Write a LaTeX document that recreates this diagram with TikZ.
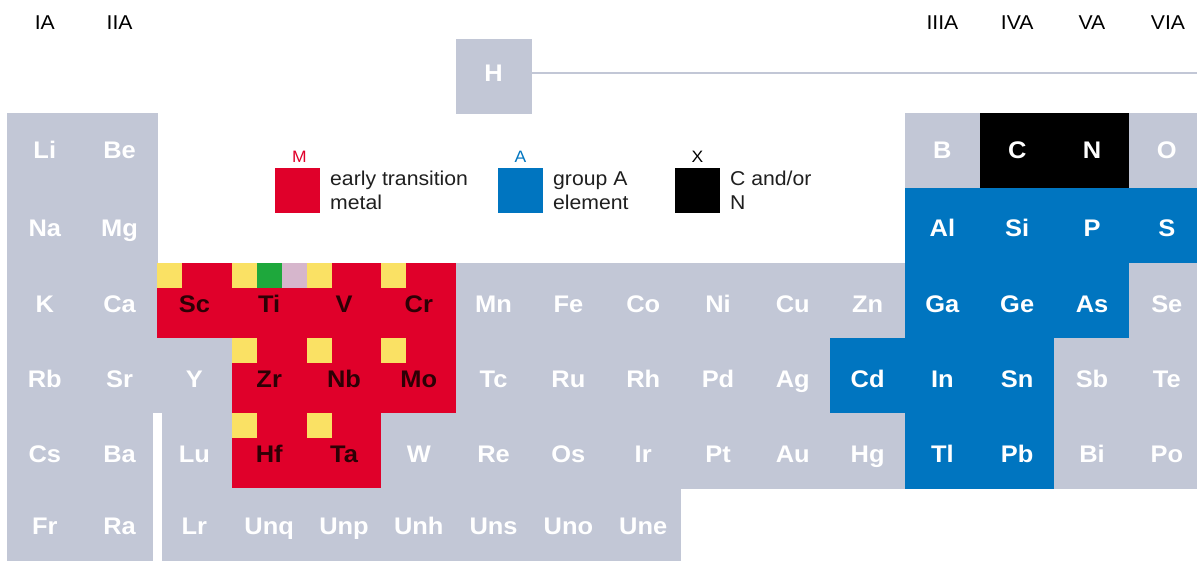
\documentclass[tikz,border=0pt]{standalone}
\usepackage{fontspec}
\setmainfont{Liberation Sans}[FakeStretch=1.06]
\definecolor{pgrey}{RGB}{194,199,214}
\definecolor{pred}{RGB}{224,0,42}
\definecolor{pblue}{RGB}{0,117,192}
\definecolor{pyel}{RGB}{250,225,100}
\definecolor{pgreen}{RGB}{30,168,60}
\definecolor{ppink}{RGB}{214,182,204}
\definecolor{pdark}{RGB}{45,0,5}
\newcommand\elem[5]{\node[cell,#4,row#2] (#5) at ({7.4+74.8*(#1-1)},{39+74.8*#2}) {#3};}
\begin{document}
\begin{tikzpicture}[x=1pt,y=-1pt,
  cell/.style={minimum width=74.8pt,minimum height=74.8pt,inner sep=0pt,outer sep=0pt,
    anchor=north west,line width=0.6pt,font=\bfseries\fontsize{24}{24}\selectfont,text depth=0pt},
  gcell/.style={fill=pgrey,draw=pgrey,text=white},
  rcell/.style={fill=pred,draw=pred,text=pdark},
  bcell/.style={fill=pblue,draw=pblue,text=white},
  kcell/.style={fill=black,draw=black,text=white},
  row0/.style={text height=11pt},
  row1/.style={text height=14pt},
  row2/.style={text height=22pt},
  row3/.style={text height=24pt},
  row4/.style={text height=24pt},
  row5/.style={text height=24pt},
  row6/.style={text height=19pt},
  group/.style={anchor=base,inner sep=0pt,font=\fontsize{20}{20}\selectfont},
  legsq/.style={minimum width=45pt,minimum height=45pt,inner sep=0pt,outer sep=0pt,anchor=north west},
  legkey/.style={anchor=base,inner sep=0pt,font=\fontsize{16.5}{16.5}\selectfont},
  legtext/.style={anchor=west,inner sep=0pt,align=left,text=black!88,font=\fontsize{20}{24}\selectfont},
  yel/.style={fill=pyel}
]
\useasboundingbox (0,0) rectangle (1197,561);
\clip (0,0) rectangle (1197,561);
% group labels
\node[group] (gIA) at (44.8,30) {IA};
\node[group] (gIIA) at (119.6,30) {IIA};
\node[group] (gIIIA) at (942.4,30) {IIIA};
\node[group] (gIVA) at (1017.2,30) {IVA};
\node[group] (gVA) at (1092,30) {VA};
\node[group] (gVIA) at (1168,30) {VIA};
% row 0
\elem{7}{0}{H}{gcell}{H}
\coordinate (Hend) at (1197,73);
\draw[pgrey,line width=2.5pt] (H.east |- Hend) -- (Hend);
% row 1
\elem{1}{1}{Li}{gcell}{Li}
\elem{2}{1}{Be}{gcell}{Be}
\elem{13}{1}{B}{gcell}{B}
\elem{14}{1}{C}{kcell}{C}
\elem{15}{1}{N}{kcell}{N}
\elem{16}{1}{O}{gcell}{O}
% row 2
\elem{1}{2}{Na}{gcell}{Na}
\elem{2}{2}{Mg}{gcell}{Mg}
\elem{13}{2}{Al}{bcell}{Al}
\elem{14}{2}{Si}{bcell}{Si}
\elem{15}{2}{P}{bcell}{P}
\elem{16}{2}{S}{bcell}{S}
% row 3
\elem{1}{3}{K}{gcell}{K}
\elem{2}{3}{Ca}{gcell}{Ca}
\elem{3}{3}{Sc}{rcell}{Sc}
\elem{4}{3}{Ti}{rcell}{Ti}
\elem{5}{3}{V}{rcell}{V}
\elem{6}{3}{Cr}{rcell}{Cr}
\elem{7}{3}{Mn}{gcell}{Mn}
\elem{8}{3}{Fe}{gcell}{Fe}
\elem{9}{3}{Co}{gcell}{Co}
\elem{10}{3}{Ni}{gcell}{Ni}
\elem{11}{3}{Cu}{gcell}{Cu}
\elem{12}{3}{Zn}{gcell}{Zn}
\elem{13}{3}{Ga}{bcell}{Ga}
\elem{14}{3}{Ge}{bcell}{Ge}
\elem{15}{3}{As}{bcell}{As}
\elem{16}{3}{Se}{gcell}{Se}
% row 4
\elem{1}{4}{Rb}{gcell}{Rb}
\elem{2}{4}{Sr}{gcell}{Sr}
\elem{3}{4}{Y}{gcell}{Y}
\elem{4}{4}{Zr}{rcell}{Zr}
\elem{5}{4}{Nb}{rcell}{Nb}
\elem{6}{4}{Mo}{rcell}{Mo}
\elem{7}{4}{Tc}{gcell}{Tc}
\elem{8}{4}{Ru}{gcell}{Ru}
\elem{9}{4}{Rh}{gcell}{Rh}
\elem{10}{4}{Pd}{gcell}{Pd}
\elem{11}{4}{Ag}{gcell}{Ag}
\elem{12}{4}{Cd}{bcell}{Cd}
\elem{13}{4}{In}{bcell}{In}
\elem{14}{4}{Sn}{bcell}{Sn}
\elem{15}{4}{Sb}{gcell}{Sb}
\elem{16}{4}{Te}{gcell}{Te}
% row 5
\elem{1}{5}{Cs}{gcell}{Cs}
\elem{2}{5}{Ba}{gcell}{Ba}
\elem{3}{5}{Lu}{gcell}{Lu}
\elem{4}{5}{Hf}{rcell}{Hf}
\elem{5}{5}{Ta}{rcell}{Ta}
\elem{6}{5}{W}{gcell}{W}
\elem{7}{5}{Re}{gcell}{Re}
\elem{8}{5}{Os}{gcell}{Os}
\elem{9}{5}{Ir}{gcell}{Ir}
\elem{10}{5}{Pt}{gcell}{Pt}
\elem{11}{5}{Au}{gcell}{Au}
\elem{12}{5}{Hg}{gcell}{Hg}
\elem{13}{5}{Tl}{bcell}{Tl}
\elem{14}{5}{Pb}{bcell}{Pb}
\elem{15}{5}{Bi}{gcell}{Bi}
\elem{16}{5}{Po}{gcell}{Po}
% row 6
\elem{1}{6}{Fr}{gcell}{Fr}
\elem{2}{6}{Ra}{gcell}{Ra}
\elem{3}{6}{Lr}{gcell}{Lr}
\elem{4}{6}{Unq}{gcell}{Unq}
\elem{5}{6}{Unp}{gcell}{Unp}
\elem{6}{6}{Unh}{gcell}{Unh}
\elem{7}{6}{Uns}{gcell}{Uns}
\elem{8}{6}{Uno}{gcell}{Uno}
\elem{9}{6}{Une}{gcell}{Une}
% white separator
\fill[white] (152.7,413.2) rectangle (162.3,561);
% small marker squares
\foreach \n in {Sc,Ti,V,Cr,Zr,Nb,Mo,Hf,Ta}{
  \fill[yel] (\n.north west) rectangle ++(24.93,24.93);
}
\fill[pgreen] ([xshift=24.93pt]Ti.north west) rectangle ++(24.93,24.93);
\fill[ppink] ([xshift=49.86pt]Ti.north west) rectangle ++(24.94,24.93);
% legend
\node[legsq,fill=pred] (sqM) at (275,168) {};
\node[legkey,text=pred] (kM) at ([xshift=2pt,yshift=5pt]sqM.north) {M};
\node[legtext] (tM) at ([xshift=10pt]sqM.east) {early transition\\metal};
\node[legsq,fill=pblue] (sqA) at (498,168) {};
\node[legkey,text=pblue] (kA) at ([yshift=5pt]sqA.north) {A};
\node[legtext] (tA) at ([xshift=10pt]sqA.east) {group A\\element};
\node[legsq,fill=black] (sqX) at (675,168) {};
\node[legkey,text=black] (kX) at ([yshift=5pt]sqX.north) {X};
\node[legtext] (tX) at ([xshift=10pt]sqX.east) {C and/or\\N};
\end{tikzpicture}
\end{document}
